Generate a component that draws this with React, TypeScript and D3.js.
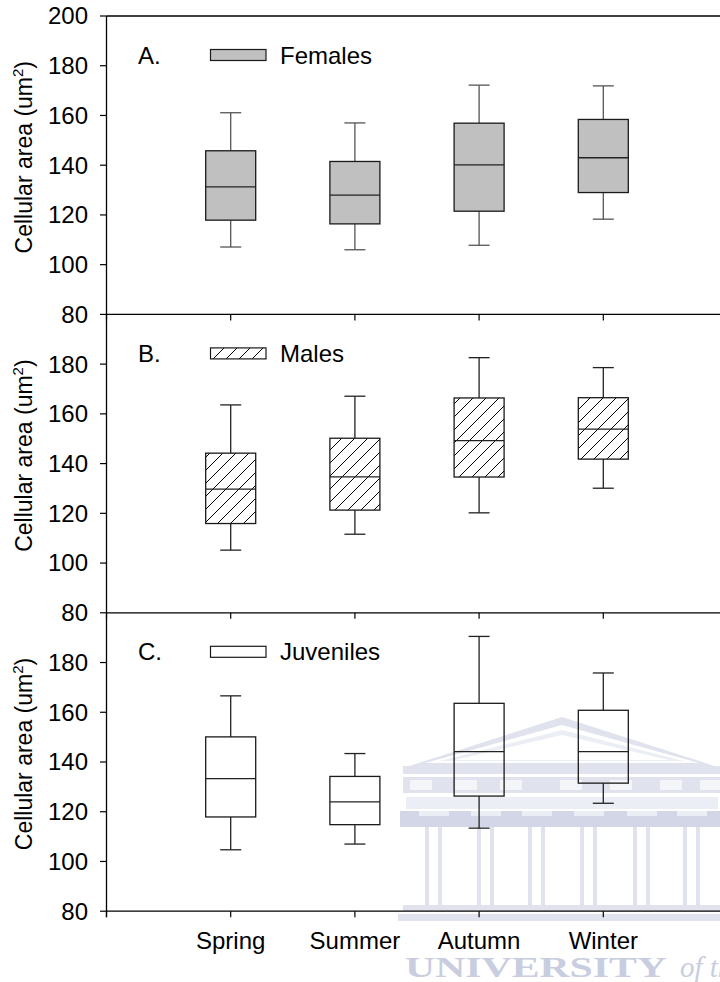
import React from "react";
import * as d3 from "d3";

const seasons = ["Spring", "Summer", "Autumn", "Winter"];
const yTicksTop = [80, 100, 120, 140, 160, 180, 200];
const yTicksLower = [80, 100, 120, 140, 160, 180];

const femalesLow = [107.1, 106, 107.8, 118.3];
const femalesQ1 = [117.9, 116.4, 121.5, 129];
const femalesMedian = [131.3, 128, 140.1, 143];
const femalesQ3 = [145.8, 141.5, 156.9, 158.4];
const femalesHigh = [161.1, 157, 172.2, 171.9];

const malesLow = [105.2, 111.6, 120.2, 130.1];
const malesQ1 = [115.9, 121.3, 134.6, 141.8];
const malesMedian = [129.7, 134.7, 149.2, 153.9];
const malesQ3 = [144.2, 150.2, 166.4, 166.5];
const malesHigh = [163.6, 167.1, 182.6, 178.6];

const juvLow = [104.7, 107, 113.4, 123.4];
const juvQ1 = [117.9, 114.8, 126.3, 131.5];
const juvMedian = [133.3, 124, 144.2, 144.2];
const juvQ3 = [150.1, 134.2, 163.6, 160.8];
const juvHigh = [166.6, 143.4, 190.5, 175.8];

const panelLetters = ["A.", "B.", "C."];
const legendNames = ["Females", "Males", "Juveniles"];

const W = 720;
const H = 982;
const FONT = "'Liberation Sans', Arial, sans-serif";

type Group = { low: number[]; q1: number[]; med: number[]; q3: number[]; high: number[] };

const groups: Group[] = [
  { low: femalesLow, q1: femalesQ1, med: femalesMedian, q3: femalesQ3, high: femalesHigh },
  { low: malesLow, q1: malesQ1, med: malesMedian, q3: malesQ3, high: malesHigh },
  { low: juvLow, q1: juvQ1, med: juvMedian, q3: juvQ3, high: juvHigh },
];

const fills = ["#c0c0c0", "url(#hatch)", "none"];
const legendFills = ["#c0c0c0", "url(#hatch)", "#ffffff"];

const left = 106.5;
const panelTop0 = 16;
const panelH = 298.4;

function Watermark() {
  const c1 = "#e0e3ee";
  const c2 = "#d2d6e7";
  const colPairs = [425, 477, 528, 580, 633, 683];
  const friezeBlocks = [410, 455, 500, 560, 610, 660, 700];
  return (
    <g>
      <polygon points="403,768 562,717 721,768" fill={c1} />
      <polygon points="425,763 562,725 699,763" fill="#ffffff" />
      <polygon points="440,761 562,730 684,761" fill={c1} opacity={0.6} />
      <polygon points="455,760 562,735 669,760" fill="#ffffff" />
      <rect x={403} y={766} width={318} height={8} fill={c1} />
      <rect x={403} y={777} width={318} height={16} fill={c1} />
      {friezeBlocks.map((x, i) => (
        <rect key={i} x={x} y={780} width={22} height={10} fill="#f4f5f9" />
      ))}
      <rect x={406} y={797} width={312} height={12} fill="#eceef5" />
      <rect x={400} y={811} width={321} height={16} fill={c2} />
      {colPairs.map((x, i) => (
        <g key={i}>
          <rect x={x - 6} y={811} width={30} height={5} fill="#eceef5" />
          <rect x={x} y={827} width={4} height={78} fill={c1} />
          <rect x={x + 13} y={827} width={4} height={78} fill={c1} />
        </g>
      ))}
      <rect x={403} y={905} width={318} height={6} fill={c1} />
      <rect x={398} y={914} width={323} height={7} fill={c1} />
      <text
        x={405}
        y={977}
        fontFamily="'Liberation Serif', 'DejaVu Serif', serif"
        fontSize={29}
        fontWeight="bold"
        fill="#c9cde0"
        textLength={262}
        lengthAdjust="spacingAndGlyphs"
      >
        UNIVERSITY
      </text>
      <text
        x={680}
        y={977}
        fontFamily="'Liberation Serif', 'DejaVu Serif', serif"
        fontSize={29}
        fontStyle="italic"
        fill="#c9cde0"
      >
        of the
      </text>
    </g>
  );
}

export default function App() {
  const x = d3.scaleLinear().domain([0, 5]).range([left, left + 124.2 * 5]);
  const boxW = 50;
  const capW = 21;
  const catX = (i: number) => x(i + 1);

  return (
    <svg width={W} height={H} style={{ display: "block", position: "absolute", left: 0, top: 0 }}>
      <defs>
        <pattern id="hatch" patternUnits="userSpaceOnUse" width={13} height={13}>
          <path d="M-2,2 L2,-2 M0,13 L13,0 M11,15 L15,11" stroke="#000" strokeWidth={1} />
        </pattern>
      </defs>
      <rect x={0} y={0} width={W} height={H} fill="#fff" />
      <Watermark />
      {groups.map((g, p) => {
        const top = panelTop0 + p * panelH;
        const bottom = top + panelH;
        const y = d3.scaleLinear().domain([80, 200]).range([bottom, top]);
        const ticks = p === 0 ? yTicksTop : yTicksLower;
        const whiskerColor = p === 0 ? "#555" : "#222";
        return (
          <g key={p}>
            {seasons.map((s, i) => {
              const cx = catX(i);
              return (
                <g key={s}>
                  <line x1={cx} x2={cx} y1={y(g.high[i])} y2={y(g.q3[i])} stroke={whiskerColor} strokeWidth={1.3} />
                  <line x1={cx} x2={cx} y1={y(g.q1[i])} y2={y(g.low[i])} stroke={whiskerColor} strokeWidth={1.3} />
                  <line x1={cx - capW / 2} x2={cx + capW / 2} y1={y(g.high[i])} y2={y(g.high[i])} stroke={whiskerColor} strokeWidth={1.3} />
                  <line x1={cx - capW / 2} x2={cx + capW / 2} y1={y(g.low[i])} y2={y(g.low[i])} stroke={whiskerColor} strokeWidth={1.3} />
                  <rect
                    x={cx - boxW / 2}
                    y={y(g.q3[i])}
                    width={boxW}
                    height={y(g.q1[i]) - y(g.q3[i])}
                    fill={fills[p]}
                    stroke="#1a1a1a"
                    strokeWidth={1.3}
                  />
                  <line x1={cx - boxW / 2} x2={cx + boxW / 2} y1={y(g.med[i])} y2={y(g.med[i])} stroke="#222" strokeWidth={1.3} />
                </g>
              );
            })}
            {ticks.map((t) => (
              <g key={t}>
                <line x1={left - 6.5} x2={left} y1={y(t)} y2={y(t)} stroke="#000" strokeWidth={1.2} />
                <text x={88} y={y(t)} dy="0.35em" textAnchor="end" fontFamily={FONT} fontSize={24} fill="#000">
                  {t}
                </text>
              </g>
            ))}
            {[0, 1, 2, 3, 4].map((k) => (
              <line key={k} x1={x(k)} x2={x(k)} y1={bottom} y2={bottom + 6} stroke="#000" strokeWidth={1.2} />
            ))}
            <line x1={left} x2={W} y1={bottom} y2={bottom} stroke="#000" strokeWidth={1.3} />
            {p === 0 && <line x1={left} x2={W} y1={top} y2={top} stroke="#000" strokeWidth={1.3} />}
            <text
              transform={`translate(32,${(top + bottom) / 2 - 8}) rotate(-90)`}
              textAnchor="middle"
              fontFamily={FONT}
              fontSize={23}
              fill="#000"
            >
              Cellular area (um
              <tspan fontSize={15} dy={-9}>2</tspan>
              <tspan dy={9}>)</tspan>
            </text>
            <text x={138} y={top + 47.5} fontFamily={FONT} fontSize={24} fill="#000">
              {panelLetters[p]}
            </text>
            <rect x={210.5} y={top + 33.5} width={55.5} height={11} fill={legendFills[p]} stroke="#1a1a1a" strokeWidth={1.2} />
            <text x={280} y={top + 47.5} fontFamily={FONT} fontSize={24} fill="#000">
              {legendNames[p]}
            </text>
          </g>
        );
      })}
      <line x1={left} x2={left} y1={panelTop0} y2={panelTop0 + 3 * panelH + 6} stroke="#000" strokeWidth={1.3} />
      {seasons.map((s, i) => (
        <text key={s} x={catX(i)} y={949} textAnchor="middle" fontFamily={FONT} fontSize={24} fill="#000">
          {s}
        </text>
      ))}
    </svg>
  );
}
